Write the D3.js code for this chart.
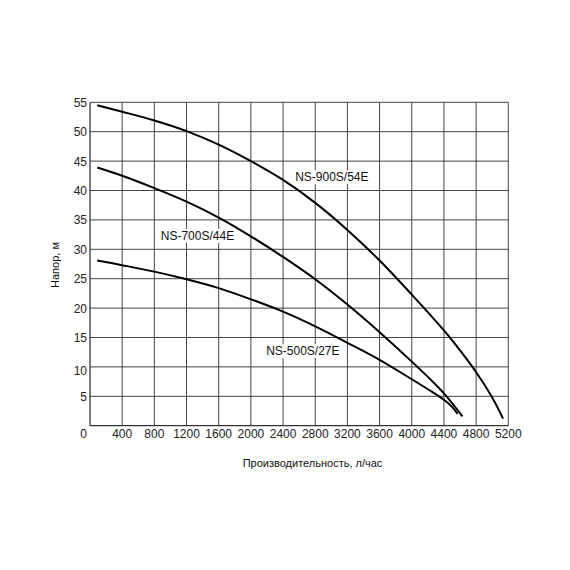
<!DOCTYPE html>
<html><head><meta charset="utf-8">
<script src="https://cdn.jsdelivr.net/npm/d3@7"></script>
<style>body{margin:0;background:#fff}</style>
</head><body>
<svg id="c" width="570" height="570"></svg>
<script>
const xTicks = [400,800,1200,1600,2000,2400,2800,3200,3600,4000,4400,4800,5200];
const yTicks = [5,10,15,20,25,30,35,40,45,50,55];
const series900 = [[90,54.5],[400,53.4],[800,51.9],[1200,50.1],[1600,47.8],[2000,45.0],[2400,41.8],[2800,37.9],[3200,33.3],[3600,28.1],[4000,22.3],[4400,16.2],[4600,12.8],[4800,9.1],[5000,4.8],[5135,1.2]];
const series700 = [[90,43.9],[400,42.5],[800,40.4],[1200,38.1],[1600,35.4],[2000,32.2],[2400,28.7],[2800,24.9],[3200,20.6],[3600,15.9],[4000,10.9],[4200,8.3],[4400,5.5],[4630,1.6]];
const series500 = [[90,28.1],[400,27.3],[800,26.2],[1200,24.9],[1600,23.4],[2000,21.5],[2400,19.4],[2800,16.9],[3200,14.1],[3600,11.2],[4000,7.9],[4200,6.2],[4400,4.4],[4500,3.2],[4570,2.0]];
const seriesNames = ["NS-900S/54E","NS-700S/44E","NS-500S/27E"];
const labelPos = [[2550,41.6],[880,31.6],[2190,12.0]]; // data coords of label starts

const svg = d3.select("#c");
const font = "'Liberation Sans', Arial, sans-serif";
const x = d3.scaleLinear().domain([0,5200]).range([90,508.3]);
const y = d3.scaleLinear().domain([0,55]).range([425.7,102.3]);

const g = svg.append("g");
// grid
g.selectAll(".vg").data(xTicks).enter().append("line")
  .attr("x1",d=>x(d)).attr("x2",d=>x(d)).attr("y1",y(0)).attr("y2",y(55))
  .attr("stroke","#444").attr("stroke-width",1);
g.selectAll(".hg").data(yTicks).enter().append("line")
  .attr("y1",d=>y(d)).attr("y2",d=>y(d)).attr("x1",x(0)).attr("x2",x(5200))
  .attr("stroke","#444").attr("stroke-width",1);
// axes
g.append("line").attr("x1",x(0)).attr("x2",x(0)).attr("y1",y(0)).attr("y2",y(55)).attr("stroke","#333").attr("stroke-width",1.3);
g.append("line").attr("x1",x(0)).attr("x2",x(5200)).attr("y1",y(0)).attr("y2",y(0)).attr("stroke","#333").attr("stroke-width",1.3);

// tick labels
g.selectAll(".xl").data(xTicks).enter().append("text")
  .attr("x",d=>x(d)).attr("y",y(0)+12.5).attr("text-anchor","middle")
  .attr("font-family",font).attr("font-size",12).attr("fill","#222").text(d=>d);
g.selectAll(".yl").data(yTicks).enter().append("text")
  .attr("x",87).attr("y",d=>y(d)+(d===10?8.5:4.5)).attr("text-anchor","end")
  .attr("font-family",font).attr("font-size",12).attr("fill","#222").text(d=>d);
g.append("text").attr("x",83.5).attr("y",y(0)+12.5).attr("text-anchor","middle")
  .attr("font-family",font).attr("font-size",12).attr("fill","#222").text("0");

// curves
const line = d3.line().x(d=>x(d[0])).y(d=>y(d[1])).curve(d3.curveCatmullRom.alpha(0.5));
[series900,series700,series500].forEach(s=>{
  g.append("path").attr("d",line(s)).attr("fill","none").attr("stroke","#000").attr("stroke-width",2);
});

// series labels with white background
seriesNames.forEach((n,i)=>{
  const t = g.append("text").attr("x",x(labelPos[i][0])).attr("y",y(labelPos[i][1]))
    .attr("font-family",font).attr("font-size",12).attr("fill","#111").text(n);
  const b = t.node().getBBox();
  g.insert("rect", () => t.node()).attr("x",b.x-1).attr("y",b.y).attr("width",b.width+2).attr("height",b.height).attr("fill","#fff");
});

// axis titles
g.append("text").attr("x",312.5).attr("y",467).attr("text-anchor","middle")
  .attr("font-family",font).attr("font-size",11).attr("fill","#111").text("Производительность, л/час");
g.append("text").attr("transform","translate(59,265) rotate(-90)").attr("text-anchor","middle")
  .attr("font-family",font).attr("font-size",11).attr("fill","#111").text("Напор, м");
</script>
</body></html>
